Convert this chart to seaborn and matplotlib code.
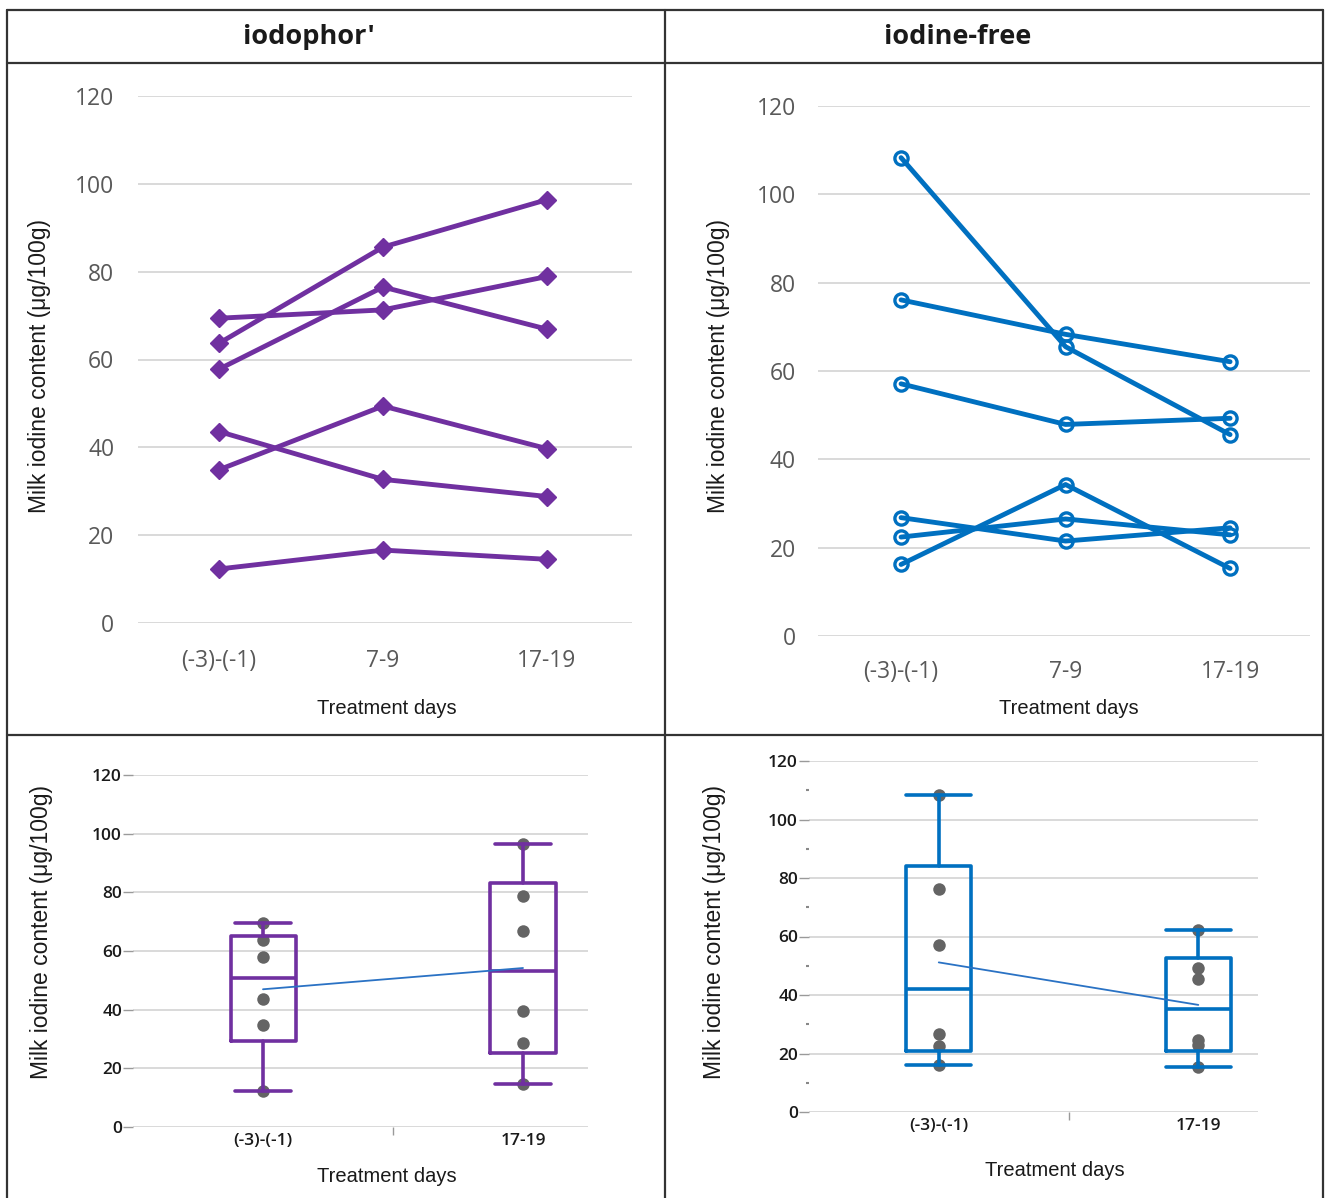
import numpy as np
import pandas as pd
import matplotlib
matplotlib.use("Agg")
import matplotlib.pyplot as plt
import seaborn as sns
from matplotlib.lines import Line2D

# values (ug/100g), one entry per cow
days = ["(-3)-(-1)", "7-9", "17-19"]
box_days = ["(-3)-(-1)", "17-19"]
cows = ["cow1", "cow2", "cow3", "cow4", "cow5", "cow6"]

iodophor_pre = [63.7, 69.4, 57.8, 34.9, 43.6, 12.3]
iodophor_mid = [85.6, 71.3, 76.5, 49.4, 32.7, 16.6]
iodophor_post = [96.4, 78.9, 66.9, 39.7, 28.8, 14.5]

free_pre = [108.3, 76.1, 57.1, 16.2, 26.8, 22.4]
free_mid = [65.5, 68.3, 47.9, 34.3, 21.5, 26.5]
free_post = [45.6, 62.1, 49.3, 15.3, 24.5, 22.9]

headers = ["iodophor'", "iodine-free"]
ylab = "Milk iodine content (\u03bcg/100g)"
xlab = "Treatment days"

purple = "#7030a0"
blue = "#0070c0"
grid_col = "#d9d9d9"

W, H = 1325, 1198
sns.set_theme(style="white")
plt.rcParams["font.family"] = ["Liberation Sans", "DejaVu Sans"]

fig = plt.figure(figsize=(W / 100, H / 100), dpi=100)


def rect(x0, y0, x1, y1):
    return [x0 / W, 1 - y1 / H, (x1 - x0) / W, (y1 - y0) / H]


def fp(x, y):
    return x / W, 1 - y / H


def long_table(pre, mid, post):
    return pd.DataFrame({"cow": cows * 3,
                         "day": np.repeat(days, len(cows)),
                         "value": pre + mid + post})


def top_panel(box, data, color, marker, filled, xpad, ypad, xlim):
    ax = fig.add_axes(rect(*box))
    kw = dict(marker=marker, markeredgecolor=color)
    if filled:
        kw.update(markersize=9, markerfacecolor=color, markeredgewidth=1)
    else:
        kw.update(markersize=9.5, markerfacecolor="none", markeredgewidth=2.4)
    sns.lineplot(data=data, x="day", y="value", hue="cow", palette=[color] * len(cows),
                 sort=False, lw=3.5, legend=False, ax=ax, clip_on=False, **kw)
    ax.set_ylim(0, 120)
    ax.set_yticks(range(0, 121, 20))
    ax.set_xlim(*xlim)
    ax.grid(axis="y", color=grid_col, lw=1.4)
    ax.set_axisbelow(True)
    sns.despine(ax=ax, left=True, bottom=True)
    ax.tick_params(length=0, labelsize=16.5, labelcolor="#595959")
    ax.tick_params(axis="x", pad=xpad)
    ax.tick_params(axis="y", pad=ypad)
    for t in ax.get_xticklabels() + ax.get_yticklabels():
        t.set_fontfamily(["Open Sans", "DejaVu Sans"])
    ax.set_xlabel("")
    ax.set_ylabel("")
    return ax


def box_panel(box, pre, post, color, cap_frac, xlim, minor_y):
    ax = fig.add_axes(rect(*box))
    bdf = pd.DataFrame({"day": np.repeat(box_days, len(cows)), "value": pre + post})
    sns.stripplot(data=bdf, x="day", y="value", order=box_days, jitter=False,
                  color="#646464", size=9, ax=ax, zorder=2)
    stats = []
    for vals in (pre, post):
        q1, med, q3 = np.percentile(vals, [25, 50, 75], method="weibull")
        stats.append(dict(med=med, q1=q1, q3=q3, whislo=min(vals),
                          whishi=max(vals), fliers=[]))
    lp = dict(color=color, lw=2.6)
    ax.bxp(stats, positions=[0, 1], widths=0.25, capwidths=0.25 * cap_frac,
           showfliers=False, boxprops=lp, whiskerprops=lp, capprops=lp,
           medianprops=lp, manage_ticks=False, zorder=3)
    means = [np.mean(pre), np.mean(post)]
    sns.lineplot(x=[0, 1], y=means, color="#2a72c4", lw=1.3, ax=ax, zorder=4)
    ax.set_ylim(0, 120)
    ax.set_yticks(range(0, 121, 20))
    if minor_y:
        ax.set_yticks(range(10, 120, 20), minor=True)
        ax.tick_params(axis="y", which="minor", length=2, width=1.5, color="#888888")
    ax.set_xlim(*xlim)
    ax.set_xticks([0, 1])
    ax.set_xticklabels(box_days)
    ax.set_xticks([0.5], minor=True)
    ax.grid(axis="y", which="major", color="#d0d0d0", lw=1.1)
    ax.set_axisbelow(True)
    sns.despine(ax=ax, left=True, bottom=True)
    ax.tick_params(axis="y", which="major", length=7, width=1, color="#9a9a9a",
                   labelsize=12.5, labelcolor="#1a1a1a", pad=1)
    ax.tick_params(axis="x", which="major", length=0, labelsize=12.5,
                   labelcolor="#1a1a1a", pad=4)
    ax.tick_params(axis="x", which="minor", length=6, width=1, color="#9a9a9a")
    ax.xaxis.set_ticks_position("bottom")
    ax.yaxis.set_ticks_position("left")
    for t in ax.get_xticklabels() + ax.get_yticklabels():
        t.set_fontfamily(["Open Sans", "DejaVu Sans"])
        t.set_fontweight("semibold")
    ax.set_xlabel("")
    ax.set_ylabel("")
    return ax


top_panel((138, 96, 632, 623), long_table(iodophor_pre, iodophor_mid, iodophor_post),
          purple, "D", True, 19, 17, (-0.494, 2.518))
top_panel((818, 106, 1310, 636), long_table(free_pre, free_mid, free_post),
          blue, "o", False, 17, 16, (-0.505, 2.486))

box_panel((133, 775, 588, 1127), iodophor_pre, iodophor_post, purple, 0.85,
          (-0.5, 1.25), False)
box_panel((809, 761, 1258, 1112), free_pre, free_post, blue, 1.0,
          (-0.5, 1.23), True)

# axis titles
for x, y in [(387, 708), (1069, 708), (387, 1176), (1055, 1171)]:
    fig.text(*fp(x, y), xlab, ha="center", va="center", fontsize=14.5, color="#1a1a1a")
for x, y in [(40, 366), (718, 366), (42, 932), (715, 932)]:
    fig.text(*fp(x, y), ylab, ha="center", va="center", rotation=90,
             fontsize=16.5, color="#1a1a1a")

# column headers
for x, txt in zip([309, 958], headers):
    fig.text(*fp(x, 37), txt, ha="center", va="center", fontsize=19.5,
             fontweight="bold", color="#1a1a1a",
             family=["Open Sans", "DejaVu Sans"])

# table frame
frame = [((7, 10), (1323, 10)), ((7, 63), (1323, 63)), ((7, 735), (1323, 735)),
         ((7, 10), (7, 1198)), ((665, 10), (665, 1198)), ((1323, 10), (1323, 1198))]
for (x0, y0), (x1, y1) in frame:
    a, b = fp(x0, y0), fp(x1, y1)
    fig.add_artist(Line2D([a[0], b[0]], [a[1], b[1]], color="#333333", lw=1.6))

fig.savefig("out.png", dpi=100)
